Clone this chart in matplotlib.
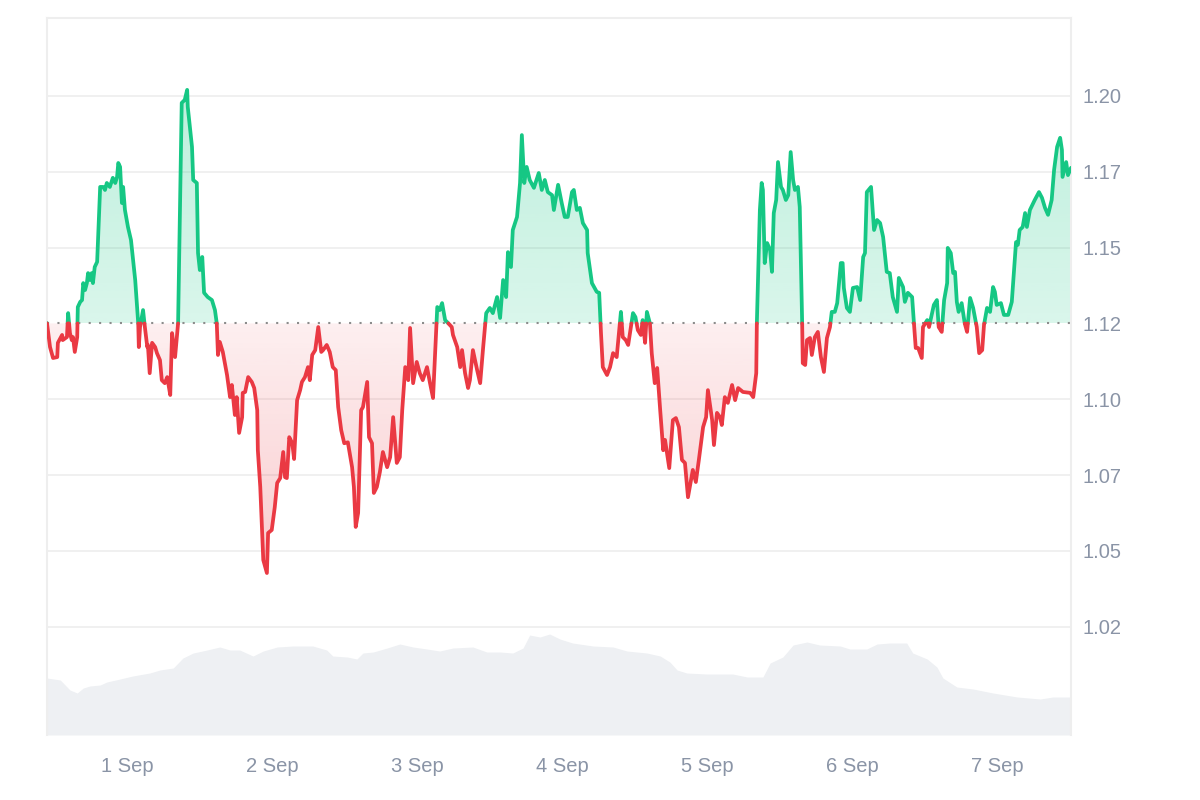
import numpy as np
import matplotlib
matplotlib.use("Agg")
import matplotlib.pyplot as plt
import matplotlib.dates as mdates
from matplotlib.path import Path
from matplotlib.patches import PathPatch
from datetime import datetime

# price series, hours counted from 31 Aug 10:45
start = datetime(2025, 8, 31, 10, 45)
baseline = 1.125

hours = [
    0.0, 0.5, 1.0, 1.7, 1.8, 2.5, 2.6, 3.3, 3.5, 3.8, 4.1, 4.3, 4.6, 5.0, 5.1, 5.5, 5.8, 6.0, 6.3, 6.6,
    6.8, 7.1, 7.4, 7.6, 7.9, 8.3, 8.8, 9.3, 9.6, 9.9, 10.4, 10.9, 11.3, 11.6, 11.8, 12.1, 12.4, 12.6, 12.9, 13.4,
    13.9, 14.6, 15.1, 15.2, 15.4, 15.9, 16.2, 16.6, 16.7, 17.0, 17.4, 17.9, 18.2, 18.7, 19.0, 19.5, 19.9, 20.4, 20.7, 21.2,
    21.7, 22.3, 22.8, 23.2, 23.3, 24.0, 24.2, 24.8, 25.0, 25.3, 25.7, 26.0, 26.6, 27.3, 27.8, 28.1, 28.3, 28.6, 29.1, 29.8,
    30.3, 30.6, 30.8, 31.1, 31.4, 31.8, 32.3, 32.4, 32.8, 33.3, 33.9, 34.3, 34.8, 34.9, 35.3, 35.8, 36.4, 36.6, 37.2, 37.7,
    38.1, 38.6, 39.1, 39.4, 39.7, 40.1, 40.6, 40.9, 41.4, 41.9, 42.2, 42.7, 43.2, 43.5, 43.9, 44.4, 44.9, 45.4, 45.7, 46.3,
    46.8, 47.3, 47.8, 48.2, 48.7, 49.2, 49.8, 50.5, 50.8, 51.1, 51.5, 52.0, 52.3, 53.0, 53.3, 53.8, 54.1, 54.6, 55.1, 55.6,
    56.3, 56.8, 57.3, 57.9, 58.4, 58.8, 59.3, 59.8, 60.1, 60.6, 61.2, 61.7, 62.2, 62.9, 63.4, 63.9, 64.6, 65.0, 65.4, 65.9,
    66.4, 67.0, 67.2, 67.9, 68.4, 68.7, 69.2, 69.7, 70.0, 70.5, 71.2, 71.7, 72.2, 72.7, 73.3, 73.8, 74.5, 75.0, 75.5, 76.0,
    76.3, 76.8, 77.1, 77.8, 78.3, 78.6, 79.0, 79.4, 79.9, 80.6, 81.4, 81.9, 82.4, 82.9, 83.6, 83.9, 84.6, 85.2, 85.7, 86.2,
    86.9, 87.2, 87.7, 88.2, 88.7, 89.4, 89.5, 90.2, 91.0, 91.4, 91.7, 92.0, 92.7, 93.2, 93.7, 94.3, 95.0, 95.3, 95.8, 96.2,
    97.0, 97.4, 97.8, 98.3, 98.6, 99.0, 99.3, 99.8, 100.1, 100.6, 101.0, 101.5, 102.0, 102.3, 103.0, 103.6, 104.1, 104.6, 105.1, 105.6,
    106.1, 106.6, 106.9, 107.4, 107.9, 108.6, 109.1, 109.4, 110.1, 110.4, 110.9, 111.4, 111.7, 112.2, 112.7, 113.4, 113.9, 114.4, 115.2, 116.4,
    116.9, 117.4, 117.5, 118.0, 118.3, 118.5, 118.8, 119.2, 119.7, 120.0, 120.3, 120.7, 121.0, 121.5, 121.8, 122.3, 122.7, 123.1, 123.5, 123.8,
    124.3, 124.6, 125.0, 125.1, 125.5, 125.8, 126.3, 126.6, 127.1, 127.6, 128.1, 128.6, 129.1, 129.6, 129.9, 130.4, 130.8, 131.4, 131.7, 131.9,
    132.4, 132.9, 133.4, 134.1, 134.6, 135.1, 135.4, 135.7, 136.4, 136.9, 137.4, 137.9, 138.4, 139.0, 139.5, 140.0, 140.7, 141.0, 141.7, 142.0,
    142.5, 143.2, 143.5, 143.8, 144.2, 144.8, 145.0, 145.7, 146.0, 146.5, 146.8, 147.3, 147.6, 148.1, 148.5, 149.0, 149.1, 149.6, 150.0, 150.3,
    150.6, 150.9, 151.4, 151.9, 152.3, 152.8, 153.3, 153.9, 154.3, 154.8, 155.1, 155.6, 156.1, 156.6, 156.9, 157.2, 157.9, 158.4, 159.1, 159.7,
    160.1, 160.4, 160.7, 161.0, 161.5, 161.9, 162.2, 162.7, 163.5, 164.2, 164.7, 165.2, 165.7, 166.3, 166.7, 167.2, 167.7, 168.0, 168.1, 168.7,
    169.0, 169.5,
]

price = [
    1.1251, 1.1172, 1.1136, 1.1139, 1.1186, 1.1212, 1.1195, 1.1205, 1.1284, 1.1218, 1.1195, 1.1205, 1.1156, 1.1205, 1.1304, 1.1321, 1.1327, 1.1383, 1.1360, 1.1383,
    1.1416, 1.1393, 1.1416, 1.1383, 1.1436, 1.1453, 1.1700, 1.1700, 1.1690, 1.1713, 1.1700, 1.1730, 1.1713, 1.1733, 1.1779, 1.1766, 1.1647, 1.1700, 1.1624, 1.1568,
    1.1525, 1.1393, 1.1251, 1.1172, 1.1238, 1.1294, 1.1238, 1.1172, 1.1179, 1.1086, 1.1186, 1.1172, 1.1152, 1.1129, 1.1063, 1.1053, 1.1073, 1.1014, 1.1218, 1.1139,
    1.1251, 1.1977, 1.1987, 1.2020, 1.1964, 1.1832, 1.1723, 1.1713, 1.1482, 1.1426, 1.1469, 1.1351, 1.1337, 1.1327, 1.1294, 1.1251, 1.1146, 1.1189, 1.1156, 1.1080,
    1.1007, 1.1047, 1.1007, 1.0948, 1.1007, 1.0889, 1.0941, 1.1021, 1.1024, 1.1073, 1.1057, 1.1037, 1.0964, 1.0832, 1.0711, 1.0470, 1.0427, 1.0559, 1.0569, 1.0644,
    1.0724, 1.0740, 1.0826, 1.0743, 1.0740, 1.0875, 1.0855, 1.0803, 1.0997, 1.1030, 1.1057, 1.1073, 1.1106, 1.1063, 1.1146, 1.1162, 1.1238, 1.1156, 1.1162, 1.1179,
    1.1156, 1.1106, 1.1096, 1.0974, 1.0898, 1.0855, 1.0858, 1.0776, 1.0711, 1.0579, 1.0625, 1.0964, 1.0974, 1.1057, 1.0875, 1.0855, 1.0691, 1.0711, 1.0760, 1.0826,
    1.0776, 1.0809, 1.0941, 1.0790, 1.0809, 1.0964, 1.1106, 1.1063, 1.1235, 1.1053, 1.1123, 1.1086, 1.1063, 1.1106, 1.1053, 1.1004, 1.1304, 1.1294, 1.1317, 1.1261,
    1.1251, 1.1238, 1.1212, 1.1172, 1.1106, 1.1162, 1.1086, 1.1037, 1.1063, 1.1162, 1.1096, 1.1053, 1.1172, 1.1284, 1.1301, 1.1284, 1.1337, 1.1268, 1.1393, 1.1337,
    1.1485, 1.1436, 1.1558, 1.1601, 1.1713, 1.1871, 1.1713, 1.1766, 1.1723, 1.1697, 1.1746, 1.1690, 1.1723, 1.1683, 1.1673, 1.1624, 1.1707, 1.1647, 1.1601, 1.1601,
    1.1683, 1.1690, 1.1624, 1.1631, 1.1581, 1.1558, 1.1482, 1.1383, 1.1354, 1.1351, 1.1218, 1.1106, 1.1080, 1.1106, 1.1152, 1.1139, 1.1288, 1.1205, 1.1195, 1.1179,
    1.1284, 1.1271, 1.1228, 1.1212, 1.1261, 1.1186, 1.1288, 1.1251, 1.1152, 1.1053, 1.1103, 1.0964, 1.0832, 1.0866, 1.0773, 1.0931, 1.0938, 1.0908, 1.0800, 1.0790,
    1.0677, 1.0734, 1.0767, 1.0727, 1.0800, 1.0908, 1.0941, 1.1030, 1.0931, 1.0849, 1.0955, 1.0941, 1.0915, 1.1007, 1.0988, 1.1047, 1.0997, 1.1037, 1.1024, 1.1021,
    1.1007, 1.1086, 1.1251, 1.1624, 1.1713, 1.1690, 1.1449, 1.1515, 1.1492, 1.1420, 1.1614, 1.1657, 1.1782, 1.1700, 1.1690, 1.1657, 1.1673, 1.1815, 1.1723, 1.1690,
    1.1700, 1.1634, 1.1251, 1.1119, 1.1113, 1.1195, 1.1202, 1.1146, 1.1205, 1.1222, 1.1139, 1.1090, 1.1202, 1.1238, 1.1288, 1.1288, 1.1317, 1.1449, 1.1449, 1.1367,
    1.1301, 1.1288, 1.1367, 1.1370, 1.1327, 1.1469, 1.1482, 1.1683, 1.1700, 1.1558, 1.1591, 1.1581, 1.1535, 1.1420, 1.1416, 1.1337, 1.1288, 1.1400, 1.1370, 1.1321,
    1.1351, 1.1337, 1.1251, 1.1169, 1.1169, 1.1136, 1.1238, 1.1261, 1.1238, 1.1284, 1.1311, 1.1327, 1.1238, 1.1222, 1.1327, 1.1383, 1.1499, 1.1482, 1.1416, 1.1420,
    1.1321, 1.1288, 1.1317, 1.1251, 1.1222, 1.1334, 1.1301, 1.1238, 1.1152, 1.1162, 1.1245, 1.1301, 1.1288, 1.1370, 1.1354, 1.1311, 1.1317, 1.1278, 1.1278, 1.1321,
    1.1436, 1.1518, 1.1509, 1.1558, 1.1568, 1.1614, 1.1568, 1.1624, 1.1657, 1.1683, 1.1664, 1.1631, 1.1608, 1.1657, 1.1756, 1.1832, 1.1862, 1.1822, 1.1733, 1.1782,
    1.1739, 1.1763,
]

# traded volume (relative units)
vol_hours = [
    0.0, 2.2, 3.8, 5.0, 6.0, 7.1, 8.8, 9.9, 12.1, 14.2, 17.0, 18.7, 20.9, 22.5, 24.2, 26.5, 28.6, 30.3, 31.9, 34.1,
    35.8, 38.1, 40.7, 44.0, 46.3, 47.3, 49.7, 51.3, 52.3, 54.0, 56.3, 58.4, 60.6, 62.9, 65.0, 67.2, 70.5, 72.8, 75.0, 77.1,
    78.8, 79.9, 81.6, 83.2, 84.9, 87.0, 90.4, 93.7, 96.0, 99.3, 101.5, 103.1, 104.3, 105.9, 109.2, 113.5, 115.9, 118.5, 119.7, 121.8,
    123.5, 125.8, 127.9, 131.3, 132.9, 135.7, 137.4, 139.5, 142.3, 143.3, 145.7, 147.3, 148.3, 150.6, 153.3, 156.6, 160.6, 164.4, 166.5, 169.5,
]
volume = [
    57, 55, 45, 42, 47, 49, 50, 53, 56, 59, 62, 65, 67, 77, 82, 85, 88, 85, 85, 79,
    84, 88, 89, 89, 85, 79, 78, 76, 82, 83, 87, 91, 88, 86, 84, 87, 88, 83, 83, 82,
    87, 100, 98, 101, 96, 92, 89, 88, 84, 82, 79, 73, 65, 62, 61, 61, 58, 58, 72, 78,
    90, 93, 90, 89, 86, 86, 91, 92, 92, 82, 76, 68, 57, 48, 46, 42, 38, 36, 38, 38,
]

ticks = [1.025, 1.05, 1.075, 1.1, 1.125, 1.15, 1.175, 1.2]

green = '#16c784'
red = '#ea3943'
label_col = '#8a94a6'

plt.rcParams['font.family'] = ['Liberation Sans', 'DejaVu Sans']

t0 = mdates.date2num(start)
x = t0 + np.array(hours) / 24.0
p = np.array(price)
vx = t0 + np.array(vol_hours) / 24.0

# insert the baseline crossings so that both colours meet
xs, ys = [x[0]], [p[0]]
for i in range(1, len(x)):
    a, b = p[i - 1] - baseline, p[i] - baseline
    if a * b < 0:
        f = a / (a - b)
        xs.append(x[i - 1] + f * (x[i] - x[i - 1]))
        ys.append(baseline)
    xs.append(x[i])
    ys.append(p[i])
xs = np.array(xs)
ys = np.array(ys)

fig = plt.figure(figsize=(12, 8), dpi=100)
rect = [47 / 1200, 1 - 735 / 800, 1024 / 1200, 717 / 800]
vol_ax = fig.add_axes(rect)
ax = fig.add_axes(rect)
ax.patch.set_alpha(0)

# volume
vol_ax.fill_between(vx, volume, 0, color='#eef0f3', lw=0)
vol_ax.set_xlim(x[0], x[-1])
vol_ax.set_ylim(0, max(volume) * 7.1)
vol_ax.axis('off')

ylo, yhi = 0.9893, 1.2257

for tk in ticks:
    if tk != baseline:
        ax.axhline(tk, color='#efefef', lw=1.3, zorder=0)


def gradient_fill(mask, color, a_base, a_far, far):
    poly = ax.fill_between(xs, ys, baseline, where=mask, facecolor='none', edgecolor='none')
    path = Path.make_compound_path(*poly.get_paths())
    patch = PathPatch(path, transform=ax.transData, facecolor='none', edgecolor='none')
    ax.add_patch(patch)
    rgb = matplotlib.colors.to_rgb(color)
    n = 256
    img = np.zeros((n, 1, 4))
    img[:, 0, :3] = rgb
    lo, hi = min(baseline, far), max(baseline, far)
    alphas = np.linspace(a_base, a_far, n)
    if far < baseline:
        alphas = alphas[::-1]
    img[:, 0, 3] = alphas
    im = ax.imshow(img, extent=[x[0], x[-1], lo, hi], aspect='auto', origin='lower', zorder=1)
    im.set_clip_path(patch)


gradient_fill(ys >= baseline, green, 0.16, 0.28, ys.max())
gradient_fill(ys <= baseline, red, 0.08, 0.26, ys.min())
ax.set_xlim(x[0], x[-1])
ax.set_ylim(ylo, yhi)

ax.axhline(baseline, color='#8c8c8c', lw=1.5, ls=(0, (1, 4)), zorder=2)

up = np.where(ys >= baseline, ys, np.nan)
down = np.where(ys <= baseline, ys, np.nan)
ax.plot(xs, up, color=green, lw=2.7, solid_joinstyle='round', solid_capstyle='round', zorder=3)
ax.plot(xs, down, color=red, lw=2.7, solid_joinstyle='round', solid_capstyle='round', zorder=3)

# labels are cut to two decimals (1.175 -> 1.17)
ax.set_yticks(ticks)
ax.set_yticklabels(['%.2f' % ((int(round(tk * 1000)) // 10) / 100) for tk in ticks])
ax.yaxis.tick_right()
ax.xaxis.set_major_locator(mdates.DayLocator())
ax.xaxis.set_major_formatter(matplotlib.ticker.FuncFormatter(
    lambda v, pos: '%d Sep' % mdates.num2date(v).day))
ax.tick_params(axis='y', length=0, pad=8.5, labelsize=14.5, labelcolor=label_col)
ax.tick_params(axis='x', length=0, pad=16, labelsize=14.5, labelcolor=label_col)

for side in ['top', 'left', 'right']:
    ax.spines[side].set_color('#eeeeee')
    ax.spines[side].set_linewidth(1.5)
ax.spines['bottom'].set_visible(False)

fig.savefig('out.png', dpi=100, facecolor='white')
